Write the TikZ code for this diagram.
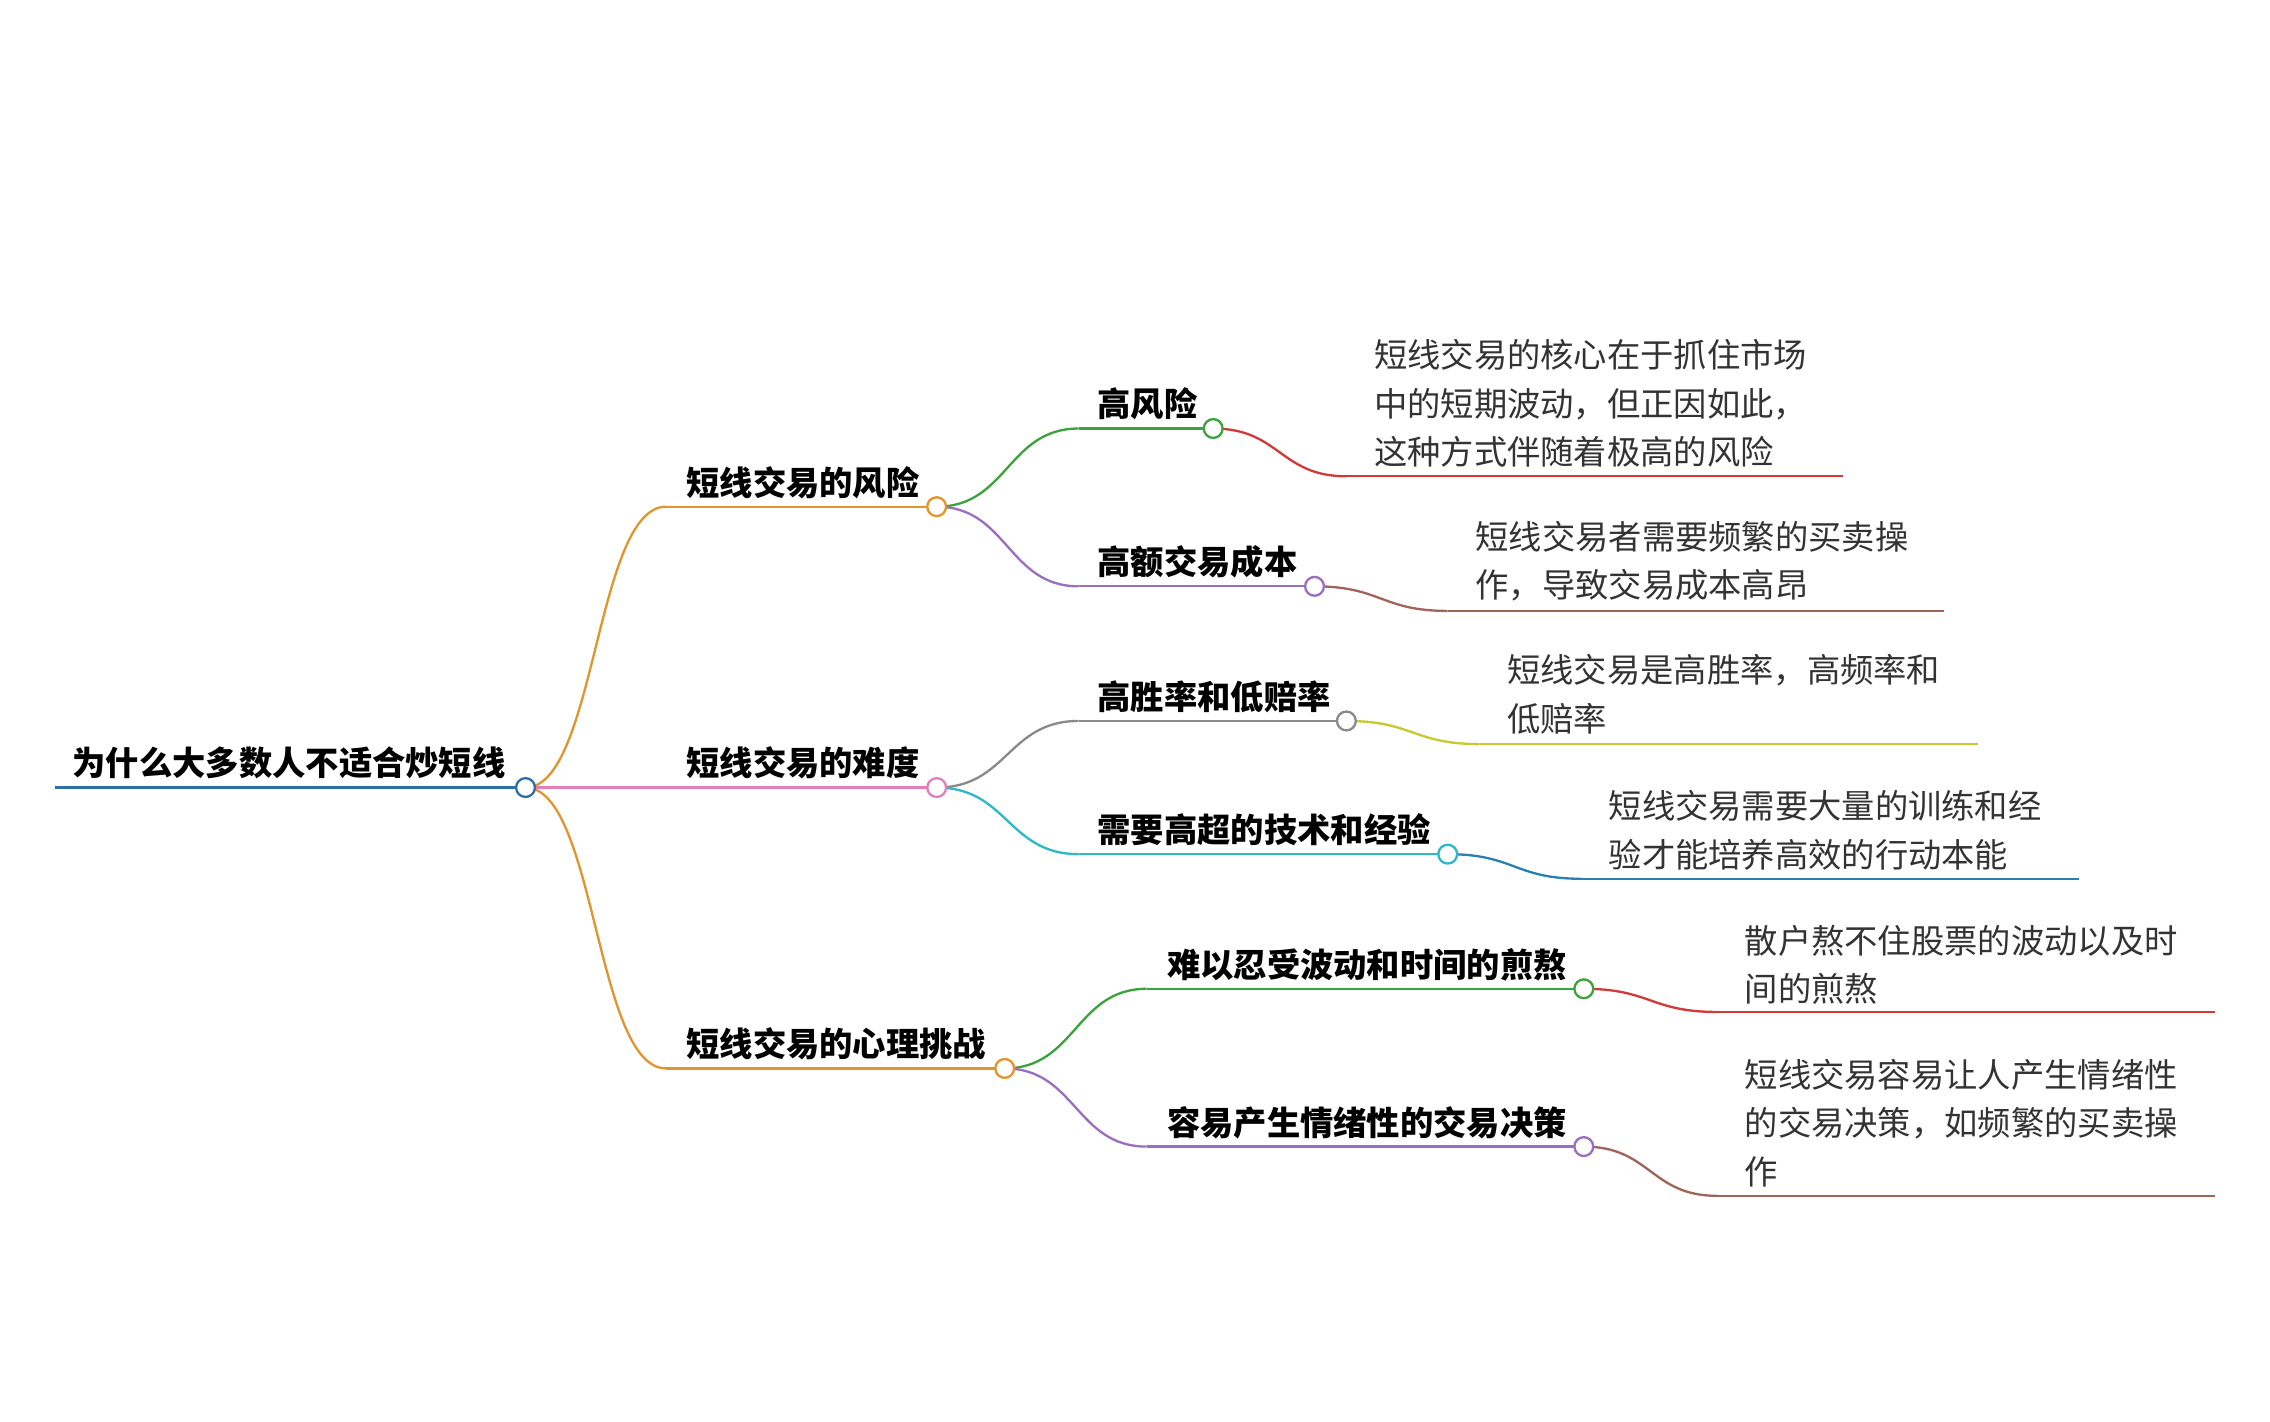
\documentclass[tikz,border=0pt]{standalone}
\usepackage{fontspec}
\newfontfamily\cjk{Noto Sans CJK SC}
\definecolor{cblue}{HTML}{2E6FA8}
\definecolor{corange}{HTML}{E0952F}
\definecolor{cpink}{HTML}{E27FB8}
\definecolor{cgreen}{HTML}{3BA33B}
\definecolor{cpurple}{HTML}{9A6FC0}
\definecolor{cgray}{HTML}{8A8A8A}
\definecolor{ccyan}{HTML}{2FB8C8}
\definecolor{cred}{HTML}{D03A3A}
\definecolor{cbrown}{HTML}{A0655A}
\definecolor{colive}{HTML}{C8C830}
\definecolor{cdblue}{HTML}{2C80B0}
\definecolor{ctext}{HTML}{333333}
\tikzset{
  br/.style={line width=1.6pt},
  dot/.style={circle,draw,line width=1.6pt,fill=white,inner sep=0pt,minimum size=13pt},
  lvl/.style={anchor=base west,inner sep=0pt,font=\cjk\fontsize{23}{26}\selectfont\bfseries,text=black},
  leaf/.style={anchor=base west,inner sep=0pt,align=left,font=\cjk\fontsize{23}{33.5}\selectfont,text=ctext},
}
\newcommand{\crv}[5]{\draw[br,#5] (#1,#2) .. controls ({(#1+#3)/2},#2) and ({(#1+#3)/2},#4) .. (#3,#4);}
\begin{document}
\begin{tikzpicture}[x=1pt,y=-1pt]
\useasboundingbox[fill=white] (0,0) rectangle (1568,982);
% root
\draw[br,cblue] (38,544) -- (363,544);
\node[lvl] (root) at (50,536) {为什么大多数人不适合炒短线};
% level1 branches
\crv{363}{544}{460}{350}{corange}
\draw[br,corange] (460,350) -- (647,350);
\draw[br,cpink] (363,544) -- (647,544);
\crv{363}{544}{460}{738}{corange}
\draw[br,corange] (460,738) -- (694,738);
\node[lvl] (a) at (474,342) {短线交易的风险};
\node[lvl] (b) at (474,536) {短线交易的难度};
\node[lvl] (c) at (474,730) {短线交易的心理挑战};
% level2
\crv{647}{350}{745}{296}{cgreen}\draw[br,cgreen] (745,296)--(838,296);
\crv{647}{350}{745}{405}{cpurple}\draw[br,cpurple] (745,405)--(908,405);
\crv{647}{544}{745}{498}{cgray}\draw[br,cgray] (745,498)--(930,498);
\crv{647}{544}{745}{590}{ccyan}\draw[br,ccyan] (745,590)--(1000,590);
\crv{694}{738}{792}{683}{cgreen}\draw[br,cgreen] (792,683)--(1094,683);
\crv{694}{738}{792}{792}{cpurple}\draw[br,cpurple] (792,792)--(1094,792);
\node[lvl] (a1) at (758,288) {高风险};
\node[lvl] (a2) at (758,397) {高额交易成本};
\node[lvl] (b1) at (758,490) {高胜率和低赔率};
\node[lvl] (b2) at (758,582) {需要高超的技术和经验};
\node[lvl] (c1) at (806,675) {难以忍受波动和时间的煎熬};
\node[lvl] (c2) at (806,784) {容易产生情绪性的交易决策};
% leaf lines
\crv{838}{296}{930}{329}{cred}\draw[br,cred] (930,329)--(1273,329);
\crv{908}{405}{1000}{422}{cbrown}\draw[br,cbrown] (1000,422)--(1343,422);
\crv{930}{498}{1022}{514}{colive}\draw[br,colive] (1022,514)--(1366,514);
\crv{1000}{590}{1092}{607}{cdblue}\draw[br,cdblue] (1092,607)--(1436,607);
\crv{1094}{683}{1186}{699}{cred}\draw[br,cred] (1186,699)--(1530,699);
\crv{1094}{792}{1186}{826}{cbrown}\draw[br,cbrown] (1186,826)--(1530,826);
\node[leaf] (l1) at (949,321) {短线交易的核心在于抓住市场\\中的短期波动，但正因如此，\\这种方式伴随着极高的风险};
\node[leaf] (l2) at (1019,413) {短线交易者需要频繁的买卖操\\作，导致交易成本高昂};
\node[leaf] (l3) at (1041,505) {短线交易是高胜率，高频率和\\低赔率};
\node[leaf] (l4) at (1111,599) {短线交易需要大量的训练和经\\验才能培养高效的行动本能};
\node[leaf] (l5) at (1205,692) {散户熬不住股票的波动以及时\\间的煎熬};
\node[leaf] (l6) at (1205,818) {短线交易容易让人产生情绪性\\的交易决策，如频繁的买卖操\\作};
% dots
\node[dot,draw=cblue] (d0) at (363,544) {};
\node[dot,draw=corange] (da) at (647,350) {};
\node[dot,draw=cpink] (db) at (647,544) {};
\node[dot,draw=corange] (dc) at (694,738) {};
\node[dot,draw=cgreen] (da1) at (838,296) {};
\node[dot,draw=cpurple] (da2) at (908,405) {};
\node[dot,draw=cgray] (db1) at (930,498) {};
\node[dot,draw=ccyan] (db2) at (1000,590) {};
\node[dot,draw=cgreen] (dc1) at (1094,683) {};
\node[dot,draw=cpurple] (dc2) at (1094,792) {};
\end{tikzpicture}
\end{document}
